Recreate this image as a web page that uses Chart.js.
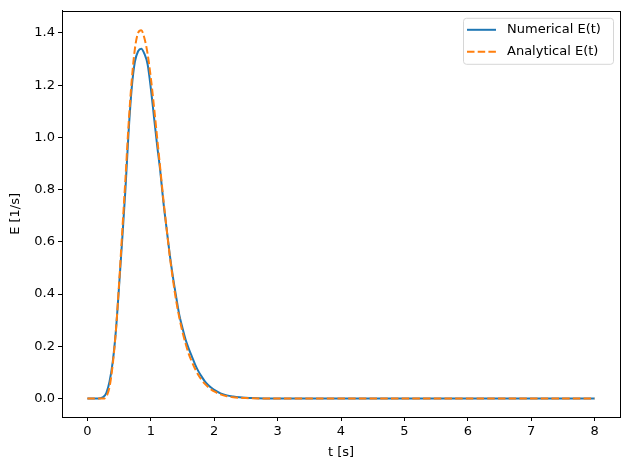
<!DOCTYPE html>
<html>
<head>
<meta charset="utf-8">
<script src="https://cdn.jsdelivr.net/npm/chart.js@4.4.1/dist/chart.umd.min.js"></script>
<style>
  html, body { margin: 0; padding: 0; background: #fff; }
  #wrap { width: 630px; height: 470px; }
</style>
</head>
<body>
<div id="wrap"><canvas id="chart" width="630" height="470"></canvas></div>
<script>
// values
const tValues = [0, 0.05, 0.1, 0.15, 0.2, 0.25, 0.3, 0.35, 0.4, 0.45, 0.5, 0.55, 0.6, 0.65, 0.7, 0.75, 0.8, 0.85, 0.9, 0.95,
  1.0, 1.05, 1.1, 1.15, 1.2, 1.25, 1.3, 1.35, 1.4, 1.45, 1.5, 1.55, 1.6, 1.65, 1.7, 1.75, 1.8, 1.85, 1.9, 1.95,
  2.0, 2.1, 2.2, 2.3, 2.4, 2.5, 2.6, 2.8, 3.0, 3.5, 4, 5, 6, 7, 8];

const numericalE = [0, 0, 0, 0, 0.001, 0.006, 0.022, 0.065, 0.14, 0.26, 0.43, 0.61, 0.80, 1.02, 1.19, 1.29, 1.33, 1.34, 1.32, 1.28,
  1.19, 1.08, 0.97, 0.87, 0.75, 0.65, 0.55, 0.465, 0.39, 0.32, 0.27, 0.225, 0.19, 0.16, 0.13, 0.105, 0.085, 0.067, 0.053, 0.042,
  0.033, 0.020, 0.012, 0.0075, 0.0045, 0.0028, 0.0017, 0.0006, 0.0002, 0, 0, 0, 0, 0, 0];

const analyticalE = [0, 0, 0, 0, 0, 0, 0.008, 0.045, 0.13, 0.26, 0.44, 0.64, 0.84, 1.05, 1.22, 1.34, 1.40, 1.41, 1.38, 1.32,
  1.23, 1.12, 1.00, 0.88, 0.76, 0.65, 0.545, 0.455, 0.375, 0.31, 0.255, 0.21, 0.17, 0.14, 0.113, 0.09, 0.072, 0.057, 0.045, 0.035,
  0.027, 0.016, 0.009, 0.005, 0.003, 0.0017, 0.001, 0.0003, 0.0001, 0, 0, 0, 0, 0, 0];

const xTicks = [0, 1, 2, 3, 4, 5, 6, 7, 8];
const yTicks = [0.0, 0.2, 0.4, 0.6, 0.8, 1.0, 1.2, 1.4];
const seriesLabels = ["Numerical E(t)", "Analytical E(t)"];

const FONT = "'DejaVu Sans', sans-serif";
const BLUE = "#1f77b4";
const ORANGE = "#ff7f0e";

const toPoints = ys => tValues.map((t, i) => ({ x: t, y: ys[i] }));

// full box around the plot area, like matplotlib spines
const frame = {
  id: "frame",
  afterDraw(chart) {
    const { ctx, chartArea: a } = chart;
    ctx.save();
    ctx.strokeStyle = "#000";
    ctx.lineWidth = 1;
    ctx.strokeRect(Math.round(a.left) + 0.5, Math.round(a.top) + 0.5,
      Math.round(a.right - a.left), Math.round(a.bottom - a.top));
    ctx.restore();
  }
};

// legend box in the upper right corner
const innerLegend = {
  id: "innerLegend",
  afterDraw(chart) {
    const { ctx, chartArea: a } = chart;
    const boxW = 150, boxH = 46;
    const x0 = a.right - 7 - boxW, y0 = a.top + 7;
    ctx.save();
    ctx.beginPath();
    ctx.roundRect(x0 + 0.5, y0 + 0.5, boxW, boxH, 3);
    ctx.fillStyle = "rgba(255,255,255,0.8)";
    ctx.fill();
    ctx.strokeStyle = "#d6d6d6";
    ctx.lineWidth = 1;
    ctx.stroke();
    ctx.font = "13px " + FONT;
    ctx.textBaseline = "middle";
    ctx.fillStyle = "#000";
    const rows = [
      { label: seriesLabels[0], color: BLUE, dash: [] },
      { label: seriesLabels[1], color: ORANGE, dash: [7.5, 3.2] }
    ];
    rows.forEach((r, i) => {
      const y = y0 + 12 + i * 22;
      ctx.beginPath();
      ctx.setLineDash(r.dash);
      ctx.strokeStyle = r.color;
      ctx.lineWidth = 2;
      ctx.moveTo(x0 + 4, y);
      ctx.lineTo(x0 + 33, y);
      ctx.stroke();
      ctx.setLineDash([]);
      ctx.fillText(r.label, x0 + 44, y);
    });
    ctx.restore();
  }
};

new Chart(document.getElementById("chart"), {
  type: "line",
  data: {
    datasets: [
      {
        label: seriesLabels[0],
        data: toPoints(numericalE),
        borderColor: BLUE,
        borderWidth: 2,
        pointRadius: 0,
        cubicInterpolationMode: "monotone",
        order: 2
      },
      {
        label: seriesLabels[1],
        data: toPoints(analyticalE),
        borderColor: ORANGE,
        borderWidth: 2,
        borderDash: [7.5, 3.2],
        pointRadius: 0,
        cubicInterpolationMode: "monotone",
        order: 1
      }
    ]
  },
  options: {
    responsive: false,
    animation: false,
    devicePixelRatio: 1,
    layout: { padding: { top: 10, right: 10, left: 0, bottom: 0 } },
    plugins: { legend: { display: false }, tooltip: { enabled: false } },
    scales: {
      x: {
        type: "linear",
        min: -0.4,
        max: 8.4,
        afterBuildTicks: s => { s.ticks = xTicks.map(v => ({ value: v })); },
        afterFit: s => { s.height = 53; },
        grid: { drawOnChartArea: false, drawTicks: true, tickLength: 4, color: "#000" },
        border: { display: true, color: "#000" },
        ticks: { color: "#000", font: { family: FONT, size: 13 }, padding: 3, maxRotation: 0,
          callback: v => String(v) },
        title: { display: true, text: "t [s]", color: "#000", font: { family: FONT, size: 13 },
          padding: { top: 2, bottom: 10 } }
      },
      y: {
        type: "linear",
        min: -0.0707,
        max: 1.4849,
        afterBuildTicks: s => { s.ticks = yTicks.map(v => ({ value: v })); },
        afterFit: s => { s.width = 62; },
        grid: { drawOnChartArea: false, drawTicks: true, tickLength: 4, color: "#000" },
        border: { display: true, color: "#000" },
        ticks: { color: "#000", font: { family: FONT, size: 13 }, padding: 3,
          callback: v => Number(v).toFixed(1) },
        title: { display: true, text: "E [1/s]", color: "#000", font: { family: FONT, size: 13 },
          padding: { top: 8, bottom: 2 } }
      }
    }
  },
  plugins: [frame, innerLegend]
});
</script>
</body>
</html>
